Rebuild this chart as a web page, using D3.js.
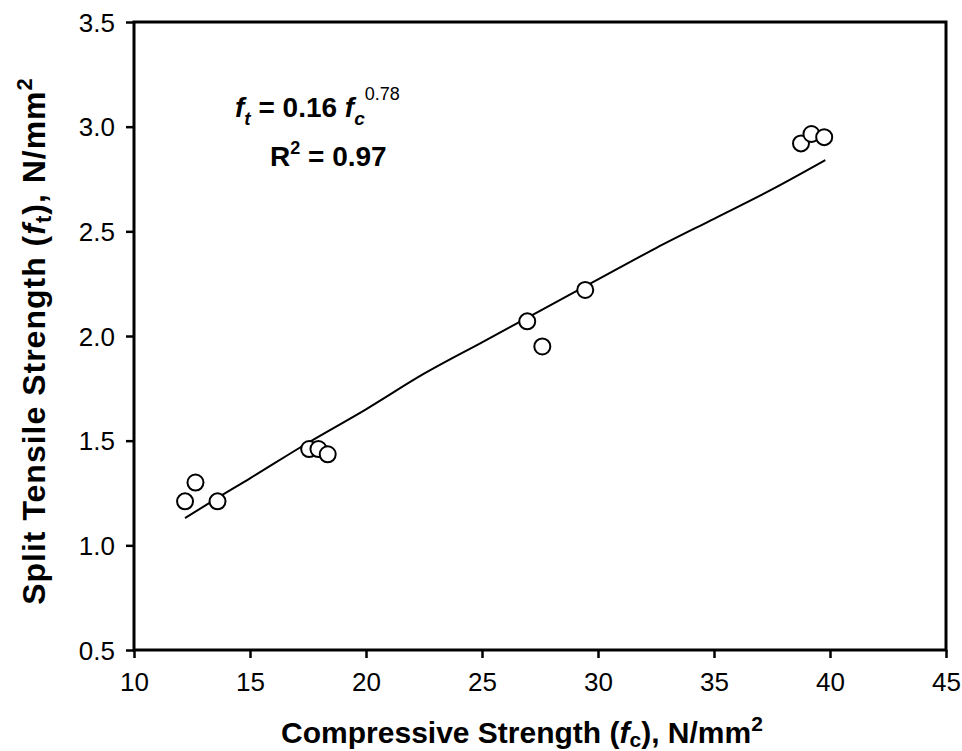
<!DOCTYPE html>
<html>
<head>
<meta charset="utf-8">
<style>
  body { margin: 0; background: #fff; }
  text { font-family: "Liberation Sans", Arial, sans-serif; fill: #000; }
  .tick text { font-size: 26px; }
</style>
<script src="https://d3js.org/d3.v7.min.js"></script>
</head>
<body>
<svg width="962" height="751"></svg>
<script>
// measured points (compressive fc, split tensile ft)
var fcValues = [12.2, 12.65, 13.6, 17.55, 17.95, 18.35, 26.95, 27.6, 29.45, 38.75, 39.2, 39.75];
var ftValues = [1.21, 1.30, 1.21, 1.46, 1.46, 1.435, 2.07, 1.95, 2.22, 2.92, 2.965, 2.95];

// fitted trend line
var fitFc = [12.2, 13.5, 15, 17.5, 20, 22.5, 25, 27.5, 30, 32.5, 35, 37.5, 39.8];
var fitFt = [1.13, 1.22, 1.32, 1.49, 1.65, 1.82, 1.97, 2.12, 2.27, 2.42, 2.56, 2.70, 2.84];

var xTicks = [10, 15, 20, 25, 30, 35, 40, 45];
var yTicks = [0.5, 1.0, 1.5, 2.0, 2.5, 3.0, 3.5];

var svg = d3.select("svg"),
    margin = {top: 22, right: 16, bottom: 101, left: 134},
    width = +svg.attr("width") - margin.left - margin.right,
    height = +svg.attr("height") - margin.top - margin.bottom;

var x = d3.scaleLinear().domain([10, 45]).range([0, width]),
    y = d3.scaleLinear().domain([0.5, 3.5]).range([height, 0]);

var g = svg.append("g")
    .attr("transform", "translate(" + margin.left + "," + margin.top + ")");

// frame
g.append("rect")
    .attr("width", width)
    .attr("height", height)
    .attr("fill", "none")
    .attr("stroke", "#000")
    .attr("stroke-width", 3);

var xAxis = g.append("g")
    .attr("transform", "translate(0," + height + ")")
    .call(d3.axisBottom(x).tickValues(xTicks).tickSize(8).tickPadding(8).tickFormat(d3.format("d")));

var yAxis = g.append("g")
    .call(d3.axisLeft(y).tickValues(yTicks).tickSize(8).tickPadding(11).tickFormat(d3.format(".1f")));

[xAxis, yAxis].forEach(function(a) {
    a.select(".domain").remove();
    a.selectAll(".tick line").attr("stroke", "#000").attr("stroke-width", 2.5);
    a.selectAll(".tick text").attr("fill", "#000");
});
xAxis.selectAll(".tick text").attr("dy", "0.95em");
yAxis.selectAll(".tick text").attr("dy", "0.35em");

// fit line
var fitData = fitFc.map(function(d, i) { return [d, fitFt[i]]; });
g.append("path")
    .datum(fitData)
    .attr("fill", "none")
    .attr("stroke", "#000")
    .attr("stroke-width", 2)
    .attr("d", d3.line()
        .x(function(d) { return x(d[0]); })
        .y(function(d) { return y(d[1]); })
        .curve(d3.curveMonotoneX));

// points
var pts = fcValues.map(function(d, i) { return [d, ftValues[i]]; });
g.selectAll(".pt")
  .data(pts)
  .enter().append("circle")
    .attr("class", "pt")
    .attr("cx", function(d) { return x(d[0]); })
    .attr("cy", function(d) { return y(d[1]); })
    .attr("r", 8)
    .attr("fill", "#fff")
    .attr("stroke", "#000")
    .attr("stroke-width", 2);

// equation
var eq = svg.append("text")
    .attr("x", 235)
    .attr("y", 117)
    .attr("font-size", 28)
    .attr("font-weight", "bold");
eq.append("tspan").attr("font-style", "italic").text("f");
eq.append("tspan").attr("font-style", "italic").attr("font-size", 19).attr("dy", 8).text("t");
eq.append("tspan").attr("dy", -8).text(" = 0.16 ");
eq.append("tspan").attr("font-style", "italic").text("f");
eq.append("tspan").attr("font-style", "italic").attr("font-size", 19).attr("dy", 8).text("c");
eq.append("tspan").attr("font-size", 18).attr("font-weight", "normal").attr("dy", -25).text("0.78");

var r2 = svg.append("text")
    .attr("x", 270)
    .attr("y", 166)
    .attr("font-size", 28)
    .attr("font-weight", "bold");
r2.append("tspan").text("R");
r2.append("tspan").attr("font-size", 18).attr("dy", -12).text("2");
r2.append("tspan").attr("dy", 12).text(" = 0.97");

// x title
var xt = svg.append("text")
    .attr("x", 522)
    .attr("y", 743)
    .attr("text-anchor", "middle")
    .attr("font-size", 30)
    .attr("font-weight", "bold");
xt.append("tspan").text("Compressive Strength (");
xt.append("tspan").attr("font-style", "italic").text("f");
xt.append("tspan").attr("font-size", 21).attr("dy", 4).text("c");
xt.append("tspan").attr("dy", -4).text("), N/mm");
xt.append("tspan").attr("font-size", 21).attr("dy", -12).text("2");

// y title
var yt = svg.append("text")
    .attr("transform", "translate(45,341) rotate(-90)")
    .attr("text-anchor", "middle")
    .attr("font-size", 32)
    .attr("letter-spacing", 1)
    .attr("font-weight", "bold");
yt.append("tspan").text("Split Tensile Strength (");
yt.append("tspan").attr("font-style", "italic").text("f");
yt.append("tspan").attr("font-size", 22).attr("dy", 6).text("t");
yt.append("tspan").attr("dy", -6).text("), N/mm");
yt.append("tspan").attr("font-size", 22).attr("dy", -13).text("2");
</script>
</body>
</html>
